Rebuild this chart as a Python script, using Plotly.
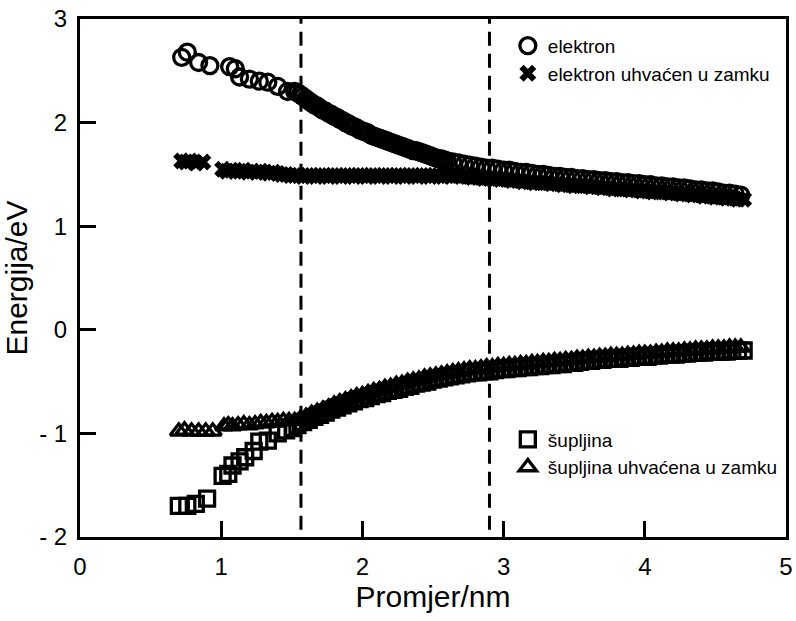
import plotly.graph_objects as go

# elektron (open circles)
elektron_x = [0.72, 0.76, 0.84, 0.92, 1.06, 1.10, 1.13, 1.20, 1.27, 1.33, 1.40, 1.47, 1.52,
              1.54, 1.56, 1.58, 1.60, 1.62, 1.64, 1.66, 1.68, 1.70, 1.72, 1.74, 1.76, 1.78, 1.80,
              1.82, 1.84, 1.86, 1.88, 1.90, 1.92, 1.94, 1.96, 1.98, 2.00, 2.02, 2.04, 2.06, 2.08,
              2.10, 2.12, 2.14, 2.16, 2.18, 2.20, 2.22, 2.24, 2.26, 2.28, 2.30, 2.32, 2.34, 2.36,
              2.38, 2.40, 2.42, 2.44, 2.46, 2.48, 2.50, 2.52, 2.54, 2.56, 2.58, 2.60,
              2.64, 2.68, 2.72, 2.76, 2.80, 2.84, 2.88, 2.92, 2.96, 3.00, 3.04, 3.08, 3.12, 3.16,
              3.20, 3.24, 3.28, 3.32, 3.36, 3.40, 3.44, 3.48, 3.52, 3.56, 3.60, 3.64, 3.68, 3.72,
              3.76, 3.80, 3.84, 3.88, 3.92, 3.96, 4.00, 4.04, 4.08, 4.12, 4.16, 4.20, 4.24, 4.28,
              4.32, 4.36, 4.40, 4.44, 4.48, 4.52, 4.56, 4.60, 4.64, 4.68]
elektron_e = [2.63, 2.68, 2.58, 2.55, 2.54, 2.52, 2.44, 2.42, 2.40, 2.39, 2.35, 2.30, 2.30,
              2.29, 2.27, 2.25, 2.23, 2.21, 2.19, 2.17, 2.16, 2.14, 2.12, 2.11, 2.09, 2.08, 2.06,
              2.05, 2.03, 2.02, 2.00, 1.99, 1.97, 1.96, 1.95, 1.93, 1.92, 1.91, 1.90, 1.88, 1.87,
              1.86, 1.85, 1.84, 1.83, 1.82, 1.81, 1.80, 1.79, 1.78, 1.77, 1.76, 1.75, 1.74, 1.73,
              1.73, 1.72, 1.71, 1.70, 1.69, 1.68, 1.67, 1.66, 1.65, 1.65, 1.64, 1.63,
              1.62, 1.61, 1.60, 1.59, 1.58, 1.57, 1.56, 1.56, 1.55, 1.54, 1.54, 1.53, 1.52, 1.52,
              1.51, 1.50, 1.50, 1.49, 1.48, 1.48, 1.47, 1.47, 1.46, 1.46, 1.45, 1.45, 1.44, 1.44,
              1.43, 1.43, 1.42, 1.42, 1.41, 1.41, 1.40, 1.40, 1.39, 1.39, 1.38, 1.38, 1.37, 1.37,
              1.36, 1.35, 1.35, 1.34, 1.34, 1.33, 1.32, 1.32, 1.31, 1.30]

# elektron uhvaćen u zamku (crosses)
zamka_e_x = [0.72, 0.75, 0.78, 0.82, 0.87,
             1.01, 1.04, 1.07, 1.10, 1.13, 1.16, 1.19, 1.22, 1.25, 1.28, 1.31, 1.34, 1.37, 1.40,
             1.43, 1.46, 1.49, 1.52, 1.55, 1.58, 1.61, 1.64, 1.67, 1.70, 1.73, 1.76, 1.79, 1.82,
             1.85, 1.88, 1.91, 1.94, 1.97, 2.00, 2.03, 2.06, 2.09, 2.12, 2.15, 2.18, 2.21, 2.24,
             2.27, 2.30, 2.33, 2.36, 2.39, 2.42, 2.45, 2.48, 2.51, 2.54, 2.57, 2.60,
             2.62, 2.66, 2.70, 2.74, 2.78, 2.82, 2.86, 2.90, 2.94, 2.98, 3.02, 3.06, 3.10, 3.14,
             3.18, 3.22, 3.26, 3.30, 3.34, 3.38, 3.42, 3.46, 3.50, 3.54, 3.58, 3.62, 3.66, 3.70,
             3.74, 3.78, 3.82, 3.86, 3.90, 3.94, 3.98, 4.02, 4.06, 4.10, 4.14, 4.18, 4.22, 4.26,
             4.30, 4.34, 4.38, 4.42, 4.46, 4.50, 4.54, 4.58, 4.62, 4.66, 4.70]
zamka_e_e = [1.63, 1.62, 1.63, 1.61, 1.62,
             1.55, 1.53, 1.54, 1.53, 1.53, 1.54, 1.52, 1.53, 1.52, 1.53, 1.52, 1.51, 1.52, 1.51,
             1.50, 1.50, 1.49, 1.49, 1.49, 1.48, 1.49, 1.49, 1.48, 1.49, 1.49, 1.48, 1.49, 1.49,
             1.48, 1.49, 1.49, 1.48, 1.49, 1.49, 1.48, 1.49, 1.49, 1.48, 1.49, 1.49, 1.48, 1.49,
             1.49, 1.48, 1.49, 1.49, 1.48, 1.49, 1.49, 1.48, 1.49, 1.49, 1.48, 1.49,
             1.49, 1.49, 1.48, 1.48, 1.47, 1.47, 1.46, 1.46, 1.46, 1.45, 1.45, 1.44, 1.44, 1.43,
             1.43, 1.42, 1.42, 1.42, 1.41, 1.41, 1.40, 1.40, 1.39, 1.39, 1.39, 1.38, 1.38, 1.37,
             1.37, 1.36, 1.36, 1.36, 1.35, 1.35, 1.34, 1.34, 1.33, 1.33, 1.33, 1.32, 1.32, 1.31,
             1.31, 1.30, 1.30, 1.29, 1.29, 1.28, 1.28, 1.27, 1.27, 1.26, 1.26]

# šupljina (open squares)
supljina_x = [0.70, 0.76, 0.82, 0.90, 1.01, 1.05, 1.08, 1.13, 1.17, 1.23, 1.27, 1.33, 1.40, 1.46, 1.51,
              1.54, 1.58, 1.62, 1.66, 1.70, 1.74, 1.78, 1.82, 1.86, 1.90, 1.94, 1.98, 2.02, 2.06,
              2.10, 2.14, 2.18, 2.22, 2.26, 2.30, 2.34, 2.38, 2.42, 2.46, 2.50, 2.54, 2.58, 2.62,
              2.66, 2.70, 2.74, 2.78, 2.82, 2.86, 2.90, 2.94, 2.98, 3.02, 3.06, 3.10, 3.14, 3.18,
              3.22, 3.26, 3.30, 3.34, 3.38, 3.42, 3.46, 3.50, 3.54, 3.58, 3.62, 3.66, 3.70, 3.74,
              3.78, 3.82, 3.86, 3.90, 3.94, 3.98, 4.02, 4.06, 4.10, 4.14, 4.18, 4.22, 4.26, 4.30,
              4.34, 4.38, 4.42, 4.46, 4.50, 4.54, 4.58, 4.62, 4.66, 4.70]
supljina_e = [-1.70, -1.70, -1.68, -1.63, -1.41, -1.39, -1.31, -1.27, -1.23, -1.17, -1.08, -1.07, -1.00, -0.97, -0.95,
              -0.92, -0.89, -0.87, -0.84, -0.82, -0.80, -0.77, -0.75, -0.73, -0.71, -0.69, -0.67, -0.66, -0.64,
              -0.62, -0.61, -0.59, -0.58, -0.57, -0.55, -0.54, -0.52, -0.51, -0.50, -0.48, -0.47, -0.46, -0.45,
              -0.44, -0.43, -0.42, -0.41, -0.41, -0.40, -0.40, -0.39, -0.38, -0.38, -0.37, -0.37, -0.36, -0.36,
              -0.35, -0.35, -0.34, -0.34, -0.33, -0.33, -0.32, -0.32, -0.31, -0.30, -0.30, -0.29, -0.29, -0.28,
              -0.28, -0.28, -0.27, -0.27, -0.26, -0.26, -0.26, -0.25, -0.25, -0.24, -0.24, -0.24, -0.23, -0.23,
              -0.22, -0.22, -0.22, -0.21, -0.21, -0.21, -0.21, -0.20, -0.20, -0.20]

# šupljina uhvaćena u zamku (open triangles)
zamka_s_x = [0.70, 0.74, 0.79, 0.84, 0.89, 0.94,
             1.02, 1.05, 1.08, 1.12, 1.16, 1.20, 1.24, 1.28, 1.32, 1.36, 1.40, 1.44, 1.48,
             1.52, 1.56, 1.60, 1.64, 1.68, 1.72, 1.76, 1.80, 1.84, 1.88, 1.92, 1.96, 2.00, 2.04,
             2.08, 2.12, 2.16, 2.20, 2.24, 2.28, 2.32, 2.36, 2.40, 2.44, 2.48, 2.52, 2.56, 2.60,
             2.64, 2.68, 2.72, 2.76, 2.80, 2.84, 2.88, 2.92, 2.96, 3.00, 3.04, 3.08, 3.12, 3.16,
             3.20, 3.24, 3.28, 3.32, 3.36, 3.40, 3.44, 3.48, 3.52, 3.56, 3.60, 3.64, 3.68, 3.72,
             3.76, 3.80, 3.84, 3.88, 3.92, 3.96, 4.00, 4.04, 4.08, 4.12, 4.16, 4.20, 4.24, 4.28,
             4.32, 4.36, 4.40, 4.44, 4.48, 4.52, 4.56, 4.60, 4.64, 4.68]
zamka_s_e = [-0.98, -0.97, -0.98, -0.98, -0.98, -0.98,
             -0.93, -0.92, -0.93, -0.92, -0.91, -0.92, -0.91, -0.90, -0.90, -0.89, -0.89, -0.88, -0.88,
             -0.88, -0.86, -0.84, -0.81, -0.79, -0.77, -0.75, -0.72, -0.70, -0.68, -0.66, -0.64, -0.63, -0.61,
             -0.59, -0.58, -0.56, -0.55, -0.53, -0.52, -0.50, -0.49, -0.48, -0.46, -0.45, -0.44, -0.43, -0.42,
             -0.41, -0.40, -0.39, -0.38, -0.38, -0.37, -0.36, -0.36, -0.35, -0.35, -0.34, -0.34, -0.33, -0.33,
             -0.32, -0.32, -0.31, -0.31, -0.30, -0.30, -0.29, -0.29, -0.28, -0.28, -0.27, -0.27, -0.26, -0.26,
             -0.25, -0.25, -0.25, -0.24, -0.24, -0.23, -0.23, -0.23, -0.22, -0.22, -0.21, -0.21, -0.21, -0.20,
             -0.20, -0.19, -0.19, -0.19, -0.18, -0.18, -0.18, -0.17, -0.17, -0.17]

granice = [1.565, 2.90]  # dashed vertical lines (nm)

x_ticks = [0, 1, 2, 3, 4, 5]
y_ticks = [-2, -1, 0, 1, 2, 3]
y_tick_text = ['- 2', '- 1', '0', '1', '2', '3']

FONT = 'Liberation Sans, Arial, Helvetica, sans-serif'

fig = go.Figure()

fig.add_trace(go.Scatter(x=elektron_x, y=elektron_e, mode='markers', name='elektron', legend='legend',
                         marker=dict(symbol='circle-open', size=16, color='black', line=dict(width=3.3))))
fig.add_trace(go.Scatter(x=zamka_e_x, y=zamka_e_e, mode='markers', name='elektron uhvaćen u zamku', legend='legend',
                         marker=dict(symbol='x', size=15, color='black', line=dict(width=0))))
fig.add_trace(go.Scatter(x=supljina_x, y=supljina_e, mode='markers', name='šupljina', legend='legend2',
                         marker=dict(symbol='square-open', size=15, color='black', line=dict(width=3.3))))
fig.add_trace(go.Scatter(x=zamka_s_x, y=zamka_s_e, mode='markers', name='šupljina uhvaćena u zamku', legend='legend2',
                         marker=dict(symbol='triangle-up-open', size=15, color='black', line=dict(width=3.3))))

for xv in granice:
    fig.add_shape(type='line', x0=xv, x1=xv, y0=-1.93, y1=3, xref='x', yref='y',
                  line=dict(color='black', width=3, dash='14px,8px'), layer='above')

axis_common = dict(showline=True, linecolor='black', linewidth=3, mirror=True,
                   ticks='inside', ticklen=16, tickwidth=2.5, tickcolor='black',
                   showgrid=False, zeroline=False, automargin=False, ticklabeloverflow='allow',
                   tickfont=dict(size=24, color='black', family=FONT))

fig.update_xaxes(range=[0, 5], tickvals=x_ticks, ticklabelstandoff=6,
                 title=dict(text='Promjer/nm', font=dict(size=30, color='black', family=FONT), standoff=4),
                 **axis_common)
fig.update_yaxes(range=[-2, 3], tickvals=y_ticks, ticktext=y_tick_text, ticklabelstandoff=5,
                 title=dict(text='Energija/eV', font=dict(size=30, color='black', family=FONT), standoff=6),
                 **axis_common)

legend_style = dict(font=dict(size=19, color='black', family=FONT), bgcolor='rgba(0,0,0,0)',
                    xanchor='left', yanchor='top', tracegroupgap=0, itemwidth=30)

fig.update_layout(
    width=796, height=621,
    margin=dict(l=80, r=10, t=19, b=84),
    plot_bgcolor='white', paper_bgcolor='white',
    font=dict(family=FONT, color='black'),
    legend=dict(x=0.606, y=0.985, **legend_style),
    legend2=dict(x=0.606, y=0.225, **legend_style),
)

# drop the page's default 8px body margin so the figure fills the window exactly
fig.write_html("out.html", config={'displayModeBar': False},
               post_script="document.body.style.margin='0px';")
